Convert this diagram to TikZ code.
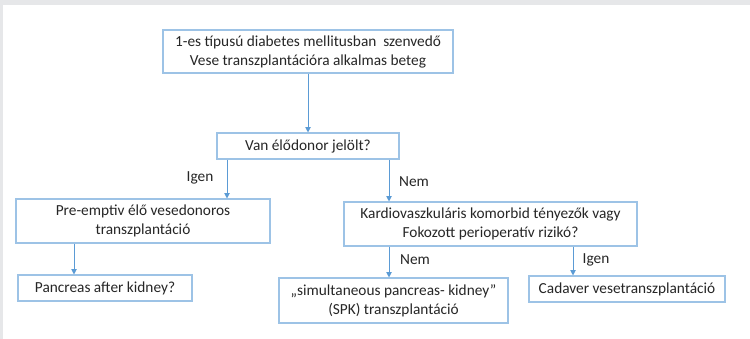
\documentclass[tikz,border=0pt]{standalone}
\usepackage{fontspec}
\setmainfont{Carlito}
\usetikzlibrary{arrows.meta}
\definecolor{boxline}{RGB}{157,195,230}
\definecolor{arrline}{RGB}{91,155,213}
\definecolor{edgegray}{RGB}{230,231,233}
\tikzset{
  box/.style={draw=boxline, line width=0.8pt, fill=white, inner sep=0pt, align=center,
    font=\fontsize{11.5pt}{14.25pt}\selectfont, text=black!85},
  arr/.style={draw=arrline, line width=0.75pt, -{Triangle[length=4pt,width=4pt]}},
  lbl/.style={font=\fontsize{11.5pt}{14.25pt}\selectfont, text=black!85, inner sep=0pt}
}
\begin{document}
\begin{tikzpicture}[x=0.75pt,y=-0.75pt]
\useasboundingbox (0,0) rectangle (750,339);
\fill[white] (0,0) rectangle (750,339);
\fill[edgegray] (0,0) rectangle (750,5);
\fill[edgegray] (0,0) rectangle (3,339);
% boxes
\node[box, minimum width=290*0.75pt, minimum height=43*0.75pt] (top) at (308,51.5)
  {1-es típusú diabetes mellitusban\ \ szenvedő\\Vese transzplantációra alkalmas beteg};
\node[box, minimum width=182*0.75pt, minimum height=26*0.75pt] (van) at (308,146)
  {Van élődonor jelölt?};
\node[box, minimum width=254*0.75pt, minimum height=44*0.75pt] (pre) at (143,221)
  {Pre-emptiv élő vesedonoros\\transzplantáció};
\node[box, minimum width=293*0.75pt, minimum height=44*0.75pt] (kar) at (490.5,224)
  {Kardiovaszkuláris komorbid tényezők vagy\\Fokozott perioperatív rizikó?};
\node[box, minimum width=174*0.75pt, minimum height=26*0.75pt] (pak) at (105,288)
  {Pancreas after kidney?};
\node[box, minimum width=229*0.75pt, minimum height=45*0.75pt] (spk) at (393.5,300.5)
  {„simultaneous pancreas- kidney”\\(SPK) transzplantáció};
\node[box, minimum width=196*0.75pt, minimum height=26*0.75pt] (cad) at (627,289)
  {Cadaver vesetranszplantáció};
% columns for connectors
\coordinate (xa) at (227,0);
\coordinate (xb) at (389,0);
\coordinate (xc) at (74,0);
\coordinate (xd) at (573,0);
% connectors
\draw[arr] (top) -- (van);
\draw[arr] (van.south -| xa) -- (pre.north -| xa);
\draw[arr] (van.south -| xb) -- (kar.north -| xb);
\draw[arr] (pre.south -| xc) -- (pak.north -| xc);
\draw[arr] (kar.south -| xb) -- (spk.north -| xb);
\draw[arr] (kar.south -| xd) -- (cad.north -| xd);
% labels
\node[lbl] (l1) at (200,178) {Igen};
\node[lbl] (l2) at (414,182) {Nem};
\node[lbl] (l3) at (415,260) {Nem};
\node[lbl] (l4) at (596,260) {Igen};
\end{tikzpicture}
\end{document}
